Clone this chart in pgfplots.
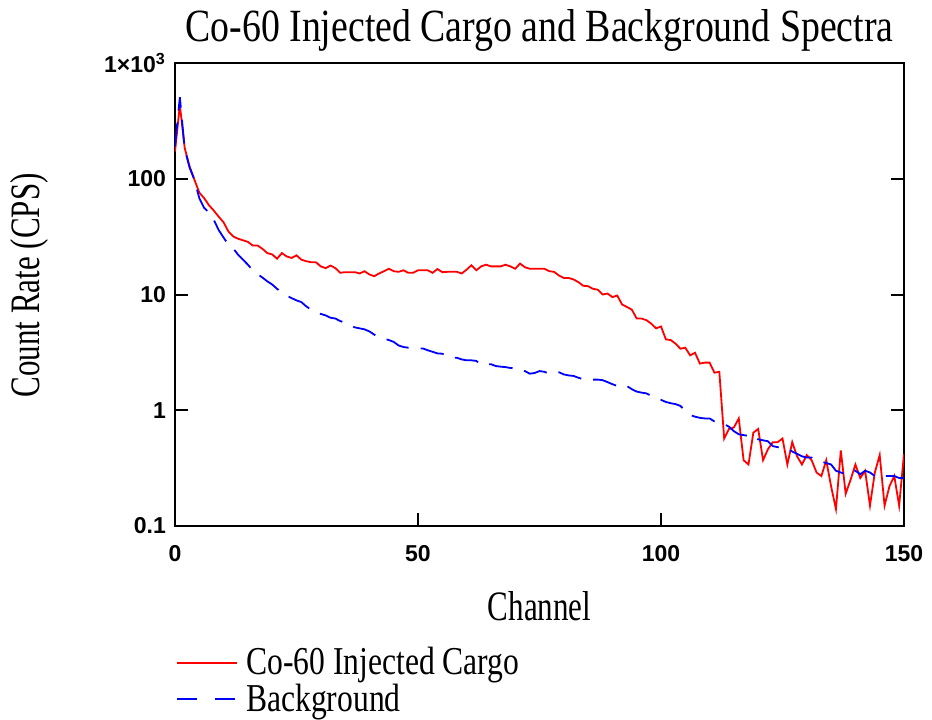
\documentclass[border=0pt]{standalone}
\usepackage{fontspec}
\setmainfont{Liberation Serif}
\setsansfont{Liberation Sans}
\usepackage{graphicx}
\usepackage{pgfplots}
\usepackage{pgfplotstable}
\pgfplotsset{compat=1.18}
\newcommand{\tall}[1]{\scalebox{1}[1.35]{#1}}
\definecolor{cred}{RGB}{255,0,0}
\definecolor{cblue}{RGB}{0,0,255}

\pgfplotstableread{
ch val
0 172
1 434
2 184
3 128
4 98
5 76
6 68
7 59
8 53
9 47
10 42
11 35
12 31.7
13 30.3
14 29.4
15 28.5
16 26.5
17 26.5
18 24.8
19 22.8
20 22.2
21 20.4
22 22.8
23 21.3
24 20.7
25 21.8
26 20
27 19.4
28 19
29 19
30 17.5
31 16.9
32 17.8
33 16.9
34 15.4
35 15.6
36 15.6
37 15.6
38 15.2
39 15.9
40 14.9
41 14.4
42 15.2
43 15.9
44 16.7
45 15.9
46 15.7
47 16.2
48 15.4
49 15.4
50 16.2
51 16.2
52 16.2
53 15.4
54 16.6
55 15.6
56 15.7
57 15.7
58 15.7
59 15.2
60 16.4
61 17.9
62 16.2
63 17.5
64 18.1
65 17.5
66 17.5
67 17.5
68 18.1
69 17.5
70 16.7
71 18.5
72 17.2
73 16.7
74 16.7
75 16.7
76 16.7
77 15.9
78 15.7
79 14.6
80 13.9
81 13.9
82 13.5
83 12.8
84 11.9
85 11.8
86 11.2
87 11.0
88 10.0
89 10.2
90 9.5
91 9.8
92 8.2
93 7.8
94 7.4
95 6.2
96 6.2
97 6.0
98 5.6
99 5.1
100 5.3
101 4.1
102 4.04
103 3.76
104 3.40
105 3.47
106 2.98
107 3.14
108 2.53
109 2.58
110 2.58
111 2.11
112 2.15
113 0.57
114 0.69
115 0.71
116 0.85
117 0.37
118 0.34
119 0.64
120 0.69
121 0.37
122 0.46
123 0.53
124 0.53
125 0.57
126 0.34
127 0.53
128 0.40
129 0.34
130 0.41
131 0.37
132 0.29
133 0.27
134 0.37
135 0.22
136 0.14
137 0.45
138 0.19
139 0.25
140 0.34
141 0.26
142 0.30
143 0.15
144 0.29
145 0.41
146 0.15
147 0.22
148 0.27
149 0.15
150 0.42
}\cargo

\pgfplotstableread{
ch val
0 190
1 506
2 180
3 125
4 98
5 68
6 56
7 51
8 44
9 36
10 31
11 27
12 25
13 22
14 20
15 18.1
16 16.2
17 15
18 14
19 13
20 12.2
21 11.2
22 10.4
23 9.8
24 9.3
25 8.9
26 8.6
27 7.9
28 7.4
29 7.0
30 6.8
31 6.6
32 6.3
33 6.2
34 5.9
35 5.7
36 5.4
37 5.2
38 5.1
39 5.0
40 4.8
41 4.5
42 4.3
43 4.17
44 4.04
45 3.9
46 3.63
47 3.52
48 3.47
49 3.47
50 3.42
51 3.42
52 3.3
53 3.2
54 3.1
55 3.08
56 2.93
57 2.84
58 2.84
59 2.75
60 2.7
61 2.7
62 2.67
63 2.46
64 2.5
65 2.5
66 2.41
67 2.38
68 2.36
69 2.32
70 2.30
71 2.28
72 2.18
73 2.07
74 2.1
75 2.18
76 2.15
77 2.07
78 2.13
79 2.13
80 2.04
81 2.0
82 1.98
83 1.91
84 1.85
85 1.84
86 1.84
87 1.84
88 1.82
89 1.75
90 1.68
91 1.62
92 1.66
93 1.62
94 1.52
95 1.45
96 1.42
97 1.40
98 1.33
99 1.26
100 1.23
101 1.18
102 1.15
103 1.13
104 1.09
105 0.99
106 0.91
107 0.88
108 0.86
109 0.85
110 0.85
111 0.80
112 0.78
113 0.76
114 0.72
115 0.66
116 0.62
117 0.61
118 0.60
119 0.61
120 0.56
121 0.55
122 0.54
123 0.49
124 0.48
125 0.47
126 0.47
127 0.44
128 0.42
129 0.40
130 0.39
131 0.39
132 0.37
133 0.36
134 0.35
135 0.34
136 0.30
137 0.29
138 0.28
139 0.28
140 0.30
141 0.28
142 0.30
143 0.29
144 0.27
145 0.26
146 0.27
147 0.27
148 0.27
149 0.26
150 0.26
}\background

\begin{document}
\begin{tikzpicture}
\begin{axis}[
  scale only axis,
  width=364.5pt, height=231.5pt,
  ymode=log,
  xmin=0, xmax=150, ymin=0.1, ymax=1000,
  xtick={0,50,100,150}, xticklabels={0,50,100,150},
  ytick={0.1,1,10,100,1000},
  yticklabels={0.1,1,10,100,{1\texttimes10\textsuperscript{3}}},
  xtick pos=bottom, ytick pos=both,
  tick align=inside,
  major tick length=6.3pt, minor tick length=0pt,
  axis line style={line width=1pt, black},
  major tick style={line width=1pt, black},
  ticklabel style={font=\sffamily\bfseries\fontsize{11.5}{13}\selectfont},
  xticklabel style={anchor=north, yshift=-6pt},
  yticklabel style={anchor=east, xshift=-1pt},
  title={\scalebox{1}[1.22]{\fontsize{18.9}{22}\selectfont Co-60 Injected Cargo and Background Spectra}},
  title style={at={(axis description cs:0.5,1)}, anchor=base, yshift=5pt, inner sep=0pt},
  xlabel={\tall{\fontsize{15.5}{18}\selectfont Channel}},
  xlabel style={at={(axis description cs:0.5,0)}, anchor=base, yshift=-47pt, inner sep=0pt},
  ylabel={\tall{\fontsize{15.5}{18}\selectfont Count Rate (CPS)}},
  ylabel style={at={(axis description cs:0,0.52)}, anchor=center, yshift=73pt, inner sep=0pt},
  legend cell align=left,
  legend image code/.code={\draw[#1] (0pt,0pt) -- (30pt,0pt);},
  legend style={at={(axis description cs:0,0)}, anchor=north west, xshift=-2.5pt, yshift=-57pt,
    draw=none, fill=none, font=\fontsize{15.8}{18}\selectfont, row sep=0pt,
    nodes={inner xsep=4pt, inner ysep=1.5pt}},
]
\addplot[cred, line width=0.9pt] table[x=ch, y=val] {\cargo};
\addlegendentry{\scalebox{1}[1.25]{Co-60 Injected Cargo}}
\addplot[cblue, line width=0.9pt, dash pattern=on 12pt off 6pt,
  legend image post style={dash pattern=on 10pt off 9pt}] table[x=ch, y=val] {\background};
\addlegendentry{\scalebox{1}[1.25]{Background}}
\end{axis}
\pgfresetboundingbox
\path[use as bounding box] (-87.5pt,-96.5pt) rectangle (378.5pt,263pt);
\end{tikzpicture}
\end{document}
